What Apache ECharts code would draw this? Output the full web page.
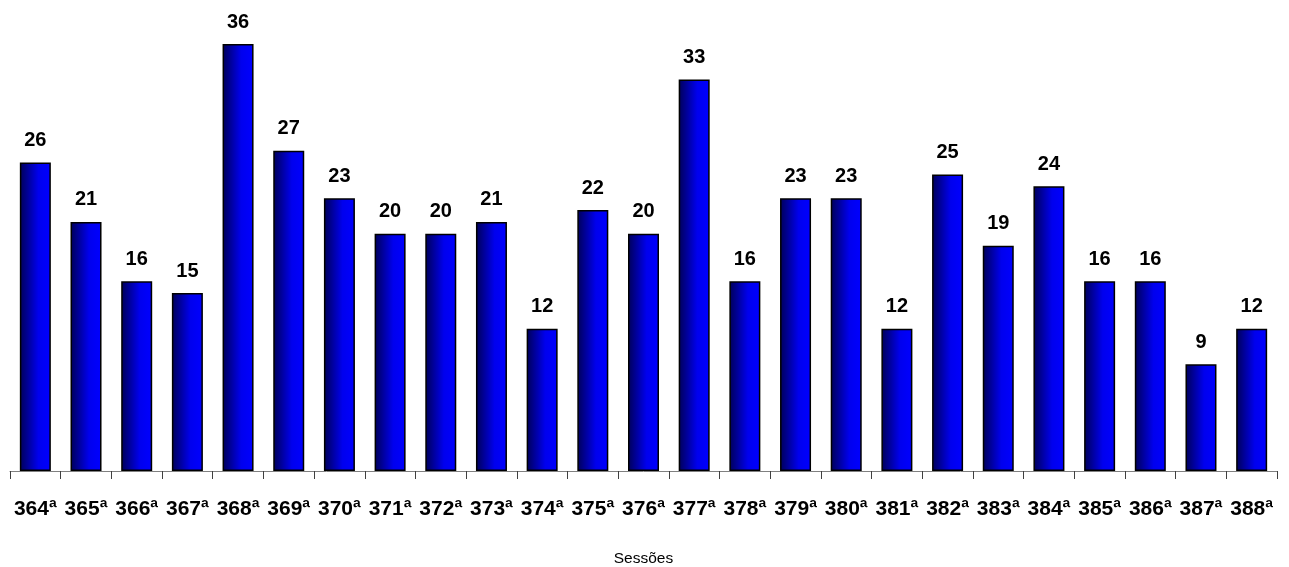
<!DOCTYPE html>
<html>
<head>
<meta charset="utf-8">
<script src="https://cdn.jsdelivr.net/npm/echarts@6/dist/echarts.min.js"></script>
<style>
html,body{margin:0;padding:0;background:#fff;}
#chart{width:1289px;height:567px;}
</style>
</head>
<body>
<div id="chart"></div>
<script>
const categories = ['364ª','365ª','366ª','367ª','368ª','369ª','370ª','371ª','372ª','373ª','374ª','375ª','376ª','377ª','378ª','379ª','380ª','381ª','382ª','383ª','384ª','385ª','386ª','387ª','388ª'];
const values = [26,21,16,15,36,27,23,20,20,21,12,22,20,33,16,23,23,12,25,19,24,16,16,9,12];
const axisName = 'Sessões';

const chart = echarts.init(document.getElementById('chart'));
chart.setOption({
  animation: false,
  backgroundColor: '#ffffff',
  grid: {left: 10, right: 12, top: 44, bottom: 96, containLabel: false, outerBoundsMode: 'none'},
  xAxis: {
    type: 'category',
    data: categories,
    name: axisName,
    nameLocation: 'middle',
    nameGap: 80,
    nameTextStyle: {fontFamily: 'Liberation Sans, Arial, sans-serif', fontSize: 15.5, color: '#000'},
    axisLine: {lineStyle: {color: '#808080', width: 1}},
    axisTick: {show: true, alignWithLabel: false, length: 8, lineStyle: {color: '#404040'}},
    axisLabel: {
      interval: 0,
      margin: 28,
      fontFamily: 'Liberation Sans, Arial, sans-serif',
      fontSize: 21,
      fontWeight: 'bold',
      color: '#000'
    }
  },
  yAxis: {
    type: 'value', min: 0, max: 36, show: false,
    splitLine: {show: false}
  },
  series: [{
    type: 'bar',
    data: values,
    barWidth: 31,
    itemStyle: {
      borderColor: '#000',
      borderWidth: 1.5,
      color: new echarts.graphic.LinearGradient(0, 0, 1, 0, [
        {offset: 0, color: '#000058'},
        {offset: 0.6, color: '#0000ee'},
        {offset: 1, color: '#0000ff'}
      ])
    },
    label: {
      show: true,
      position: 'top',
      distance: 12,
      fontFamily: 'Liberation Sans, Arial, sans-serif',
      fontSize: 20,
      fontWeight: 'bold',
      color: '#000'
    }
  }]
});
</script>
</body>
</html>
